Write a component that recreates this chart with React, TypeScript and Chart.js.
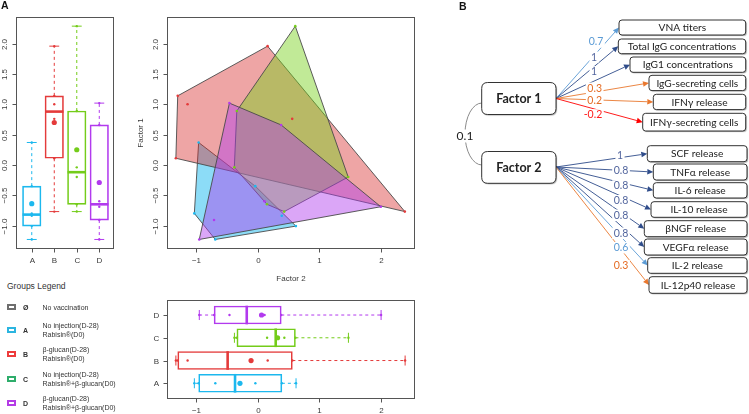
import React, { useEffect, useRef } from 'react';
import { Chart, registerables } from 'chart.js';

Chart.register(...registerables);

// ---------------- DATA ----------------
const groups = ['A', 'B', 'C', 'D'];
const groupPositions = [1, 2, 3, 4];

const factor1TickValues = [-1, -0.5, 0, 0.5, 1, 1.5, 2];
const factor1TickLabels = ['−1.0', '−0.5', '0.0', '0.5', '1.0', '1.5', '2.0'];
const factor2TickValues = [-1, 0, 1, 2];
const factor2TickLabels = ['−1', '0', '1', '2'];

// individual scores per group (Factor 2 = horizontal, Factor 1 = vertical)
const factor2A = [-0.96, -1.03, -0.69, 0.62, -0.04, 0.39];
const factor1A = [0.37, -0.8, -1.23, -1.01, -0.35, -0.84];
const factor2B = [-1.33, -1.3, 0.16, 2.39, -1.14, 0.56];
const factor1B = [0.11, 1.14, 1.96, -0.77, 1.0, 0.76];
const factor2C = [0.61, 1.47, 0.43, 0.15, -0.38, -0.34];
const factor1C = [2.29, -0.2, -0.77, -0.65, -0.04, 0.89];
const factor2D = [-0.46, -0.95, 2.0, 0.38, -0.71, 0.11];
const factor1D = [1.02, -1.23, -0.69, 0.66, -0.91, -0.6];

// box statistics, Factor 1 (vertical boxplot)
const f1Low = [-1.23, -0.77, -0.77, -1.23];
const f1Q1 = [-1.01, 0.11, -0.65, -0.91];
const f1Median = [-0.82, 0.88, -0.12, -0.65];
const f1Q3 = [-0.35, 1.14, 0.89, 0.66];
const f1High = [0.37, 1.96, 2.29, 1.02];
const f1Mean = [-0.64, 0.7, 0.25, -0.29];

// box statistics, Factor 2 (horizontal boxplot)
const f2Low = [-1.03, -1.33, -0.38, -0.95];
const f2Q1 = [-0.96, -1.3, -0.34, -0.71];
const f2Median = [-0.37, -0.49, 0.29, -0.18];
const f2Q3 = [0.39, 0.56, 0.61, 0.38];
const f2High = [0.62, 2.39, 1.47, 2.0];
const f2Mean = [-0.29, -0.11, 0.32, 0.06];

// legend
const legendSymbols = ['Ø', 'A', 'B', 'C', 'D'];
const legendLine1 = ['No vaccination', 'No injection(D-28)', 'β-glucan(D-28)', 'No injection(D-28)', 'β-glucan(D-28)'];
const legendLine2 = ['', 'Rabisin®(D0)', 'Rabisin®(D0)', 'Rabisin®+β-glucan(D0)', 'Rabisin®+β-glucan(D0)'];

// path diagram (panel B)
const factorNames = ['Factor 1', 'Factor 2'];
const factorCorrelation = 0.1;
const factor1Indicators = ['VNA titers', 'Total IgG concentrations', 'IgG1 concentrations', 'IgG-secreting cells', 'IFNγ release', 'IFNγ-secreting cells'];
const factor1Loadings = [0.7, 1, 1, 0.3, 0.2, -0.2];
const factor2Indicators = ['SCF release', 'TNFα release', 'IL-6 release', 'IL-10 release', 'βNGF release', 'VEGFα release', 'IL-2 release', 'IL-12p40 release'];
const factor2Loadings = [1, 0.8, 0.8, 0.8, 0.8, 0.8, 0.6, 0.3];

// ---------------- STYLE / LAYOUT ----------------
const groupColors = ['#1CB8EE', '#E43B3B', '#74CC1A', '#B23AEE'];
const hullFills = ['rgba(0,178,238,0.45)', 'rgba(214,40,40,0.42)', 'rgba(118,208,24,0.45)', 'rgba(176,58,238,0.45)'];
const legendColors = ['#6E6E6E', '#2BB5E0', '#EE3B3B', '#2EAD6B', '#B43CE6'];
const legendRowY = [307, 330, 354, 379, 403];
const FONT = '"Liberation Sans", Arial, Helvetica, sans-serif';
const DFONT = 'Lato, "Open Sans", sans-serif';

const f1Origin = [556, 98.5];
const f2Origin = [556, 167];
const f1BoxLeft = [619, 618.3, 630, 649, 653.3, 642.7];
const f1BoxTop = [20, 39, 57, 75.3, 94.3, 113.3];
const f1BoxHeight = [15, 14.7, 15.3, 15.3, 15.3, 17.7];
const f1BoxRight = 745.7;
const f1LabelX = [596, 594, 594, 594.7, 594.7, 593];
const f1LabelY = [42, 57.3, 72, 88.3, 100.3, 115];
const f2BoxLeft = [647.3, 653.3, 653.3, 651, 644.3, 644.3, 647.7, 649];
const f2BoxTop = [145.7, 164, 182.7, 201.7, 220.7, 239, 257.7, 276.7];
const f2BoxHeight = [16, 16, 15.3, 15.6, 16, 16, 15.6, 16.6];
const f2BoxRight = 747;
const f2LabelX = [620, 621, 621, 621, 621, 621, 621, 621];
const f2LabelY = [155.3, 171, 186, 200.7, 215.3, 233.3, 247.7, 265.7];
const factorBoxLeft = 481.7;
const factorBoxRight = 556;
const factorBoxTop = [82.5, 151.5];
const factorBoxBottom = [114.5, 183.3];

const scoresF1 = [factor1A, factor1B, factor1C, factor1D];
const scoresF2 = [factor2A, factor2B, factor2C, factor2D];

function convexHull(pts: { x: number; y: number }[]) {
  const p = [...pts].sort((a, b) => a.x - b.x || a.y - b.y);
  const cross = (o: any, a: any, b: any) => (a.x - o.x) * (b.y - o.y) - (a.y - o.y) * (b.x - o.x);
  const lower: any[] = [];
  for (const q of p) {
    while (lower.length >= 2 && cross(lower[lower.length - 2], lower[lower.length - 1], q) <= 0) lower.pop();
    lower.push(q);
  }
  const upper: any[] = [];
  for (let i = p.length - 1; i >= 0; i--) {
    const q = p[i];
    while (upper.length >= 2 && cross(upper[upper.length - 2], upper[upper.length - 1], q) <= 0) upper.pop();
    upper.push(q);
  }
  upper.pop();
  lower.pop();
  return lower.concat(upper);
}

function makeAxesPlugin(cfg: any) {
  return {
    id: 'rAxes',
    afterDraw(chart: any) {
      const { ctx, chartArea: a, scales } = chart;
      const L = Math.round(a.left) + 0.5, T = Math.round(a.top) + 0.5;
      const R = Math.round(a.right) + 0.5, B = Math.round(a.bottom) + 0.5;
      const seg = (x0: number, y0: number, x1: number, y1: number) => {
        ctx.beginPath(); ctx.moveTo(x0, y0); ctx.lineTo(x1, y1); ctx.stroke();
      };
      ctx.save();
      ctx.strokeStyle = '#555';
      ctx.lineWidth = 1;
      ctx.strokeRect(L, T, R - L, B - T);
      ctx.fillStyle = '#3a3a3a';
      ctx.font = `8px ${FONT}`;
      ctx.textAlign = 'center';
      ctx.textBaseline = 'middle';
      cfg.xTicks.forEach((v: number, i: number) => {
        const px = Math.round(scales.x.getPixelForValue(v)) + 0.5;
        seg(px, B, px, B + 4);
        ctx.fillText(cfg.xLabels[i], px, B + 12.5);
      });
      cfg.yTicks.forEach((v: number, i: number) => {
        const py = Math.round(scales.y.getPixelForValue(v)) + 0.5;
        seg(L - 4, py, L, py);
        if (cfg.yRotate) {
          ctx.save();
          ctx.translate(L - 12, py);
          ctx.rotate(-Math.PI / 2);
          ctx.fillText(cfg.yLabels[i], 0, 0);
          ctx.restore();
        } else {
          ctx.fillText(cfg.yLabels[i], L - 11, py);
        }
      });
      if (cfg.xTitle) ctx.fillText(cfg.xTitle, (L + R) / 2, B + 30);
      if (cfg.yTitle) {
        ctx.save();
        ctx.translate(L - 27, (T + B) / 2);
        ctx.rotate(-Math.PI / 2);
        ctx.fillText(cfg.yTitle, 0, 0);
        ctx.restore();
      }
      ctx.restore();
    },
  };
}

function makeBoxPlugin(horizontal: boolean, lo: number[], med: number[], q1: number[], q3: number[], hi: number[]) {
  return {
    id: 'boxExtras',
    afterDatasetsDraw(chart: any) {
      const { ctx, scales } = chart;
      const x = scales.x, y = scales.y;
      const pt = (pos: number, val: number) =>
        horizontal ? [x.getPixelForValue(val), y.getPixelForValue(pos)] : [x.getPixelForValue(pos), y.getPixelForValue(val)];
      const seg = (p0: number[], p1: number[]) => {
        ctx.beginPath(); ctx.moveTo(p0[0], p0[1]); ctx.lineTo(p1[0], p1[1]); ctx.stroke();
      };
      ctx.save();
      groupPositions.forEach((c, i) => {
        ctx.strokeStyle = groupColors[i];
        ctx.lineWidth = 1;
        ctx.setLineDash([3, 3]);
        seg(pt(c, q3[i]), pt(c, hi[i]));
        seg(pt(c, q1[i]), pt(c, lo[i]));
        ctx.setLineDash([]);
        seg(pt(c - 0.22, hi[i]), pt(c + 0.22, hi[i]));
        seg(pt(c - 0.22, lo[i]), pt(c + 0.22, lo[i]));
        ctx.lineWidth = 2.6;
        seg(pt(c - 0.41, med[i]), pt(c + 0.41, med[i]));
      });
      ctx.restore();
    },
  };
}

const hullPlugin = {
  id: 'hulls',
  beforeDatasetsDraw(chart: any) {
    const { ctx, scales } = chart;
    ctx.save();
    groups.forEach((g, i) => {
      const pts = scoresF2[i].map((v, k) => ({ x: v, y: scoresF1[i][k] }));
      const h = convexHull(pts);
      ctx.beginPath();
      h.forEach((p: any, k: number) => {
        const px = scales.x.getPixelForValue(p.x), py = scales.y.getPixelForValue(p.y);
        if (k) ctx.lineTo(px, py); else ctx.moveTo(px, py);
      });
      ctx.closePath();
      ctx.fillStyle = hullFills[i];
      ctx.fill();
      ctx.strokeStyle = '#4a4a4a';
      ctx.lineWidth = 0.9;
      ctx.stroke();
    });
    ctx.restore();
  },
};

const lineColor = (v: number) => (v < 0 ? '#FF0000' : v < 0.5 ? '#E9782F' : v < 0.75 ? '#5B9BD5' : '#2F4C8A');
const labelColor = (v: number) => (v < 0 ? '#FF1A1A' : v < 0.5 ? '#E46C25' : v < 0.75 ? '#5B9BD5' : '#53669E');

const diagramPlugin = {
  id: 'pathDiagram',
  afterDraw(chart: any) {
    const { ctx, scales } = chart;
    const X = (v: number) => scales.x.getPixelForValue(v);
    const Y = (v: number) => scales.y.getPixelForValue(v);
    const roundRect = (x0: number, y0: number, x1: number, y1: number, r: number) => {
      ctx.beginPath();
      ctx.moveTo(x0 + r, y0);
      ctx.lineTo(x1 - r, y0);
      ctx.quadraticCurveTo(x1, y0, x1, y0 + r);
      ctx.lineTo(x1, y1 - r);
      ctx.quadraticCurveTo(x1, y1, x1 - r, y1);
      ctx.lineTo(x0 + r, y1);
      ctx.quadraticCurveTo(x0, y1, x0, y1 - r);
      ctx.lineTo(x0, y0 + r);
      ctx.quadraticCurveTo(x0, y0, x0 + r, y0);
      ctx.closePath();
    };
    const box = (x0: number, y0: number, x1: number, y1: number, r: number, text: string, font: string) => {
      ctx.save();
      roundRect(X(x0), Y(y0), X(x1), Y(y1), r);
      ctx.shadowColor = 'rgba(0,0,0,0.35)';
      ctx.shadowOffsetX = 1;
      ctx.shadowOffsetY = 1;
      ctx.shadowBlur = 1;
      ctx.fillStyle = '#fff';
      ctx.fill();
      ctx.restore();
      ctx.save();
      roundRect(X(x0), Y(y0), X(x1), Y(y1), r);
      ctx.strokeStyle = '#333';
      ctx.lineWidth = 1;
      ctx.stroke();
      ctx.fillStyle = '#222';
      ctx.font = font;
      ctx.textAlign = 'center';
      ctx.textBaseline = 'middle';
      ctx.fillText(text, (X(x0) + X(x1)) / 2, (Y(y0) + Y(y1)) / 2 + 0.5);
      ctx.restore();
    };
    const arrow = (x0: number, y0: number, x1: number, y1: number, color: string) => {
      const ang = Math.atan2(Y(y1) - Y(y0), X(x1) - X(x0));
      const hl = 6, hw = 2.8;
      const bx = X(x1) - hl * Math.cos(ang), by = Y(y1) - hl * Math.sin(ang);
      ctx.strokeStyle = color;
      ctx.lineWidth = 0.9;
      ctx.beginPath();
      ctx.moveTo(X(x0), Y(y0));
      ctx.lineTo(bx, by);
      ctx.stroke();
      ctx.fillStyle = color;
      ctx.beginPath();
      ctx.moveTo(X(x1), Y(y1));
      ctx.lineTo(bx + hw * Math.sin(ang), by - hw * Math.cos(ang));
      ctx.lineTo(bx - hw * Math.sin(ang), by + hw * Math.cos(ang));
      ctx.closePath();
      ctx.fill();
    };
    const label = (text: string, x: number, y: number, color: string, size: number) => {
      ctx.font = `${size}px ${DFONT}`;
      const w = ctx.measureText(text).width;
      ctx.fillStyle = '#fff';
      ctx.fillRect(X(x) - w / 2 - 1.5, Y(y) - size / 2 - 0.5, w + 3, size + 1);
      ctx.fillStyle = color;
      ctx.textAlign = 'center';
      ctx.textBaseline = 'middle';
      ctx.fillText(text, X(x), Y(y));
    };
    ctx.save();
    // correlation arc between the factors
    ctx.strokeStyle = '#8a8a8a';
    ctx.lineWidth = 1;
    ctx.beginPath();
    ctx.ellipse(X(482), Y(134), 17, 31, 0, Math.PI / 2, (3 * Math.PI) / 2);
    ctx.stroke();
    label(String(factorCorrelation), 465, 136, '#222', 12);

    const groupsDiag = [
      { names: factor1Indicators, loads: factor1Loadings, origin: f1Origin, left: f1BoxLeft, top: f1BoxTop, h: f1BoxHeight, right: f1BoxRight, lx: f1LabelX, ly: f1LabelY },
      { names: factor2Indicators, loads: factor2Loadings, origin: f2Origin, left: f2BoxLeft, top: f2BoxTop, h: f2BoxHeight, right: f2BoxRight, lx: f2LabelX, ly: f2LabelY },
    ];
    groupsDiag.forEach((g) => {
      g.names.forEach((n, i) => {
        arrow(g.origin[0], g.origin[1], g.left[i], g.top[i] + g.h[i] / 2, lineColor(g.loads[i]));
      });
      g.names.forEach((n, i) => {
        label(String(g.loads[i]), g.lx[i], g.ly[i], labelColor(g.loads[i]), 10.5);
      });
      g.names.forEach((n, i) => {
        box(g.left[i], g.top[i], g.right, g.top[i] + g.h[i], 3, n, `10.2px ${DFONT}`);
      });
    });
    factorNames.forEach((f, i) => {
      box(factorBoxLeft, factorBoxTop[i], factorBoxRight, factorBoxBottom[i], 6, f, `bold 12.5px ${DFONT}`);
    });
    ctx.restore();
  },
};

function baseOptions(padding: any, xMin: number, xMax: number, yMin: number, yMax: number, yReverse = false) {
  return {
    responsive: false,
    animation: false,
    events: [],
    layout: { padding },
    plugins: { legend: { display: false }, tooltip: { enabled: false }, title: { display: false } },
    scales: {
      x: { type: 'linear', min: xMin, max: xMax, display: false, offset: false },
      y: { type: 'linear', min: yMin, max: yMax, display: false, reverse: yReverse, offset: false },
    },
  } as any;
}

export default function App() {
  const leftRef = useRef<HTMLCanvasElement>(null);
  const scatterRef = useRef<HTMLCanvasElement>(null);
  const bottomRef = useRef<HTMLCanvasElement>(null);
  const diagramRef = useRef<HTMLCanvasElement>(null);

  useEffect(() => {
    const charts: Chart[] = [];
    const F1_MIN = -1.371, F1_MAX = 2.441;
    const F2_MIN = -1.479, F2_MAX = 2.539;

    // ----- left vertical boxplot (Factor 1) -----
    charts.push(
      new Chart(leftRef.current as HTMLCanvasElement, {
        type: 'bar',
        data: {
          datasets: [
            {
              type: 'bar',
              data: groups.map((g, i) => ({ x: groupPositions[i], y: [f1Q1[i], f1Q3[i]] })),
              backgroundColor: 'rgba(255,255,255,0)',
              borderColor: groupColors,
              borderWidth: 1,
              borderSkipped: false,
              barThickness: 18.5,
              order: 3,
            } as any,
            ...groups.map((g, i) => ({
              type: 'scatter',
              data: scoresF1[i].map((v) => ({ x: groupPositions[i], y: v })),
              pointRadius: 1.2,
              pointBackgroundColor: groupColors[i],
              pointBorderWidth: 0,
              order: 2,
            })),
            {
              type: 'scatter',
              data: groups.map((g, i) => ({ x: groupPositions[i], y: f1Mean[i] })),
              pointRadius: 2.6,
              pointBackgroundColor: groupColors,
              pointBorderWidth: 0,
              order: 1,
            },
          ] as any,
        },
        options: baseOptions({ left: 16, top: 17, right: 7, bottom: 22 }, 0.3, 4.61, F1_MIN, F1_MAX),
        plugins: [
          makeBoxPlugin(false, f1Low, f1Median, f1Q1, f1Q3, f1High),
          makeAxesPlugin({ xTicks: groupPositions, xLabels: groups, yTicks: factor1TickValues, yLabels: factor1TickLabels, yRotate: true }),
        ],
      })
    );

    // ----- scatter with convex hulls -----
    charts.push(
      new Chart(scatterRef.current as HTMLCanvasElement, {
        type: 'scatter',
        data: {
          datasets: groups.map((g, i) => ({
            label: g,
            data: scoresF2[i].map((v, k) => ({ x: v, y: scoresF1[i][k] })),
            pointRadius: 1.3,
            pointBackgroundColor: groupColors[i],
            pointBorderWidth: 0,
          })) as any,
        },
        options: baseOptions({ left: 46.7, top: 17, right: 36, bottom: 42 }, F2_MIN, F2_MAX, F1_MIN, F1_MAX),
        plugins: [
          hullPlugin,
          makeAxesPlugin({
            xTicks: factor2TickValues, xLabels: factor2TickLabels,
            yTicks: factor1TickValues, yLabels: factor1TickLabels, yRotate: true,
            xTitle: 'Factor 2', yTitle: 'Factor 1',
          }),
        ],
      })
    );

    // ----- bottom horizontal boxplot (Factor 2) -----
    charts.push(
      new Chart(bottomRef.current as HTMLCanvasElement, {
        type: 'bar',
        data: {
          datasets: [
            {
              type: 'bar',
              indexAxis: 'y',
              data: groups.map((g, i) => ({ y: groupPositions[i], x: [f2Q1[i], f2Q3[i]] })),
              backgroundColor: 'rgba(255,255,255,0)',
              borderColor: groupColors,
              borderWidth: 1,
              borderSkipped: false,
              barThickness: 18,
              order: 3,
            } as any,
            ...groups.map((g, i) => ({
              type: 'scatter',
              data: scoresF2[i].map((v) => ({ x: v, y: groupPositions[i] })),
              pointRadius: 1.2,
              pointBackgroundColor: groupColors[i],
              pointBorderWidth: 0,
              order: 2,
            })),
            {
              type: 'scatter',
              data: groups.map((g, i) => ({ x: f2Mean[i], y: groupPositions[i] })),
              pointRadius: 2.6,
              pointBackgroundColor: groupColors,
              pointBorderWidth: 0,
              order: 1,
            },
          ] as any,
        },
        options: baseOptions({ left: 46.7, top: 20, right: 35.7, bottom: 15.7 }, F2_MIN, F2_MAX, 0.34, 4.66),
        plugins: [
          makeBoxPlugin(true, f2Low, f2Median, f2Q1, f2Q3, f2High),
          makeAxesPlugin({ xTicks: factor2TickValues, xLabels: factor2TickLabels, yTicks: groupPositions, yLabels: groups, yRotate: false }),
        ],
      })
    );

    // ----- path diagram -----
    charts.push(
      new Chart(diagramRef.current as HTMLCanvasElement, {
        type: 'scatter',
        data: { datasets: [] },
        options: baseOptions(0, 450, 749, 0, 300, true),
        plugins: [diagramPlugin],
      })
    );

    return () => charts.forEach((c) => c.destroy());
  }, []);

  const abs = (left: number, top: number, w: number, h: number): React.CSSProperties => ({
    position: 'absolute', left, top, width: w, height: h,
  });

  return (
    <div style={{ position: 'fixed', left: 0, top: 0, width: 749, height: 414, background: '#fff', overflow: 'hidden', fontFamily: FONT }}>
      <canvas ref={leftRef} width={120} height={270} style={abs(0, 0, 120, 270)} />
      <canvas ref={scatterRef} width={330} height={290} style={abs(120, 0, 330, 290)} />
      <canvas ref={bottomRef} width={330} height={134} style={abs(120, 280, 330, 134)} />
      <canvas ref={diagramRef} width={299} height={300} style={abs(450, 0, 299, 300)} />

      <div style={{ position: 'absolute', left: 1, top: 0, fontWeight: 'bold', fontSize: 10.5, lineHeight: '11px', color: '#111' }}>A</div>
      <div style={{ position: 'absolute', left: 459, top: 1, fontWeight: 'bold', fontSize: 10.5, lineHeight: '11px', color: '#111' }}>B</div>

      <div style={{ position: 'absolute', left: 7, top: 282, fontSize: 8.5, lineHeight: '9px', color: '#333', whiteSpace: 'nowrap' }}>Groups Legend</div>
      {legendSymbols.map((s, i) => {
        const y = legendRowY[i];
        const two = legendLine2[i] !== '';
        return (
          <React.Fragment key={s}>
            <div style={{ position: 'absolute', left: 7, top: y - 3, width: 9, height: 6, boxSizing: 'border-box', border: `2px solid ${legendColors[i]}`, background: '#fff' }} />
            <div style={{ position: 'absolute', left: 23, top: y - 3.5, fontSize: 7, lineHeight: '7px', fontWeight: 'bold', color: '#333' }}>{s}</div>
            <div style={{ position: 'absolute', left: 42.5, top: two ? y - 8 : y - 3.5, fontSize: 7, lineHeight: '8.5px', color: '#333', whiteSpace: 'nowrap' }}>
              {legendLine1[i]}
              {two ? <br /> : null}
              {two ? legendLine2[i] : null}
            </div>
          </React.Fragment>
        );
      })}
    </div>
  );
}
